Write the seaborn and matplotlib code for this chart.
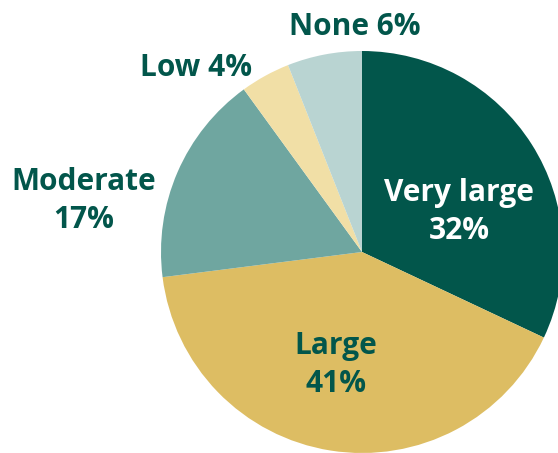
import matplotlib
matplotlib.use("Agg")
import matplotlib.pyplot as plt
import seaborn as sns

# data
categories = ["Very large", "Large", "Moderate", "Low", "None"]
shares = [32, 41, 17, 4, 6]

# styling
colors = ["#02564B", "#DDBD63", "#6FA6A0", "#F1DFA6", "#B9D4D2"]
text_colors = ["white", "#02564B", "#02564B", "#02564B", "#02564B"]
two_lines = [True, True, True, False, False]
# label centres in pixels (x, y from top)
label_px = [(459, 212), (336, 365), (84, 201), (196, 68), (355, 27)]

sns.set_theme(style="white")
plt.rcParams['font.family'] = ['Open Sans', 'DejaVu Sans']

W, H = 558, 453
cx, cy, r = 362, 252, 201

fig = plt.figure(figsize=(W / 100, H / 100), dpi=100)
ax = fig.add_axes([0, 0, 1, 1])
ax.pie(shares, colors=colors, startangle=90, counterclock=False,
       radius=1, center=(0, 0), wedgeprops=dict(linewidth=0))
ax.set_aspect('auto')
ax.set_xlim(-cx / r, (W - cx) / r)
ax.set_ylim(-(H - cy) / r, cy / r)
ax.axis('off')

for cat, val, col, two, (px, py) in zip(categories, shares, text_colors, two_lines, label_px):
    txt = f"{cat}\n{val}%" if two else f"{cat} {val}%"
    ax.text((px - cx) / r, (cy - py) / r, txt, ha='center', va='center',
            color=col, fontsize=21.5, fontweight='bold', linespacing=1.38)

plt.savefig('out.png', dpi=100)
